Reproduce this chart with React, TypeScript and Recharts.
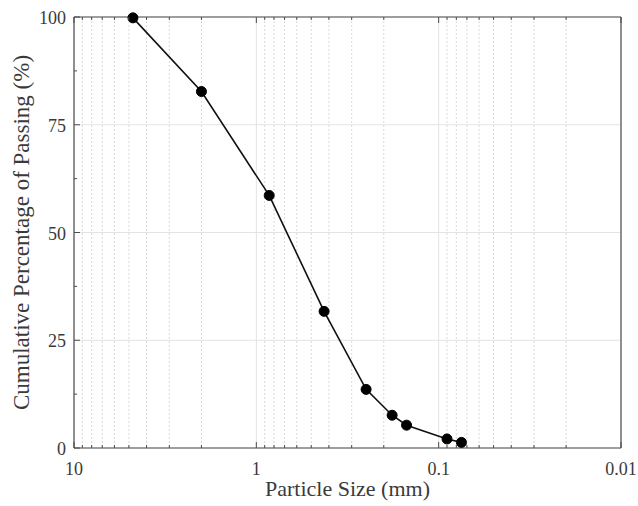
import React from "react";
import { ComposedChart, Line, XAxis, YAxis, CartesianGrid } from "recharts";

// sieve analysis: particle size (mm) vs cumulative % passing
const sizes = [4.75, 2.0, 0.85, 0.425, 0.25, 0.18, 0.15, 0.09, 0.075];
const passing = [99.8, 82.7, 58.6, 31.7, 13.6, 7.6, 5.3, 2.1, 1.3];

const xMajor = [10, 1, 0.1, 0.01];
const xMinor = [
  9, 8, 7, 6, 5, 4, 3, 2,
  0.9, 0.8, 0.7, 0.6, 0.5, 0.4, 0.3, 0.2,
  0.09, 0.08, 0.07, 0.06, 0.05, 0.04, 0.03, 0.02,
];
const yMajor = [0, 25, 50, 75, 100];
const yMinor = [12.5, 37.5, 62.5, 87.5];

const data = sizes.map((s, i) => ({ size: s, pct: passing[i] }));
const xTicks = [...xMajor, ...xMinor];
const yTicks = [...yMajor, ...yMinor].sort((a, b) => a - b);

const FONT = "Liberation Serif";
const TEXT = "#3a3a3a";
const AXIS = "#4d4d4d";

const XTick = ({ x, y, payload, side }: any) => {
  const major = xMajor.includes(payload.value);
  const len = major ? 6 : 3;
  const dir = side === "bottom" ? -1 : 1;
  return (
    <g>
      <line x1={x} x2={x} y1={y} y2={y + dir * len} stroke={AXIS} strokeWidth={1} />
      {side === "bottom" && major && (
        <text
          x={x}
          y={y + 27}
          textAnchor="middle"
          style={{ fontFamily: FONT, fontSize: 18 }}
          fill={TEXT}
        >
          {payload.value}
        </text>
      )}
    </g>
  );
};

const YTick = ({ x, y, payload, side }: any) => {
  const major = yMajor.includes(payload.value);
  const len = major ? 6 : 3;
  const dir = side === "left" ? 1 : -1;
  return (
    <g>
      <line x1={x} x2={x + dir * len} y1={y} y2={y} stroke={AXIS} strokeWidth={1} />
      {side === "left" && major && (
        <text
          x={x - 8}
          y={y + 7}
          textAnchor="end"
          style={{ fontFamily: FONT, fontSize: 18 }}
          fill={TEXT}
        >
          {payload.value}
        </text>
      )}
    </g>
  );
};

export default function App() {
  return (
    <div
      style={{ position: "absolute", left: 0, top: 0, background: "#fff", fontFamily: FONT }}
    >
      <ComposedChart
        width={638}
        height={506}
        data={data}
        margin={{ top: 16, right: 16, left: 0, bottom: 0 }}
      >
        <CartesianGrid
          xAxisId="bottom"
          yAxisId="left"
          horizontal={false}
          verticalValues={xMinor}
          stroke="#d9d9d9"
          strokeDasharray="2 2"
        />
        <CartesianGrid
          xAxisId="bottom"
          yAxisId="left"
          verticalValues={xMajor}
          horizontalValues={yMajor}
          stroke="#e3e3e3"
        />
        <XAxis
          xAxisId="bottom"
          dataKey="size"
          type="number"
          scale="log"
          domain={[0.01, 10]}
          allowDataOverflow
          reversed
          ticks={xTicks}
          interval={0}
          height={58}
          tickSize={0}
          tickMargin={0}
          tickLine={false}
          axisLine={{ stroke: AXIS, strokeWidth: 1.2 }}
          tick={<XTick side="bottom" />}
          label={{
            value: "Particle Size (mm)",
            position: "center",
            dy: 11,
            style: { fontFamily: FONT, fontSize: 22 },
            fill: TEXT,
          }}
        />
        <XAxis
          xAxisId="top"
          orientation="top"
          dataKey="size"
          type="number"
          scale="log"
          domain={[0.01, 10]}
          allowDataOverflow
          reversed
          ticks={xTicks}
          interval={0}
          height={1}
          tickSize={0}
          tickMargin={0}
          tickLine={false}
          axisLine={{ stroke: AXIS, strokeWidth: 1.2 }}
          tick={<XTick side="top" />}
        />
        <YAxis
          yAxisId="left"
          type="number"
          domain={[0, 100]}
          ticks={yTicks}
          interval={0}
          width={74}
          tickSize={0}
          tickMargin={0}
          tickLine={false}
          axisLine={{ stroke: AXIS, strokeWidth: 1.2 }}
          tick={<YTick side="left" />}
          label={{
            value: "Cumulative Percentage of Passing (%)",
            angle: -90,
            position: "center",
            dx: -16,
            style: { fontFamily: FONT, fontSize: 23 },
            fill: TEXT,
          }}
        />
        <YAxis
          yAxisId="right"
          orientation="right"
          type="number"
          domain={[0, 100]}
          ticks={yTicks}
          interval={0}
          width={1}
          tickSize={0}
          tickMargin={0}
          tickLine={false}
          axisLine={{ stroke: AXIS, strokeWidth: 1.2 }}
          tick={<YTick side="right" />}
        />
        <Line
          xAxisId="bottom"
          yAxisId="left"
          dataKey="pct"
          type="linear"
          stroke="#111"
          strokeWidth={1.6}
          dot={{ r: 5, fill: "#000", stroke: "#000", strokeWidth: 1 }}
          isAnimationActive={false}
        />
      </ComposedChart>
    </div>
  );
}
